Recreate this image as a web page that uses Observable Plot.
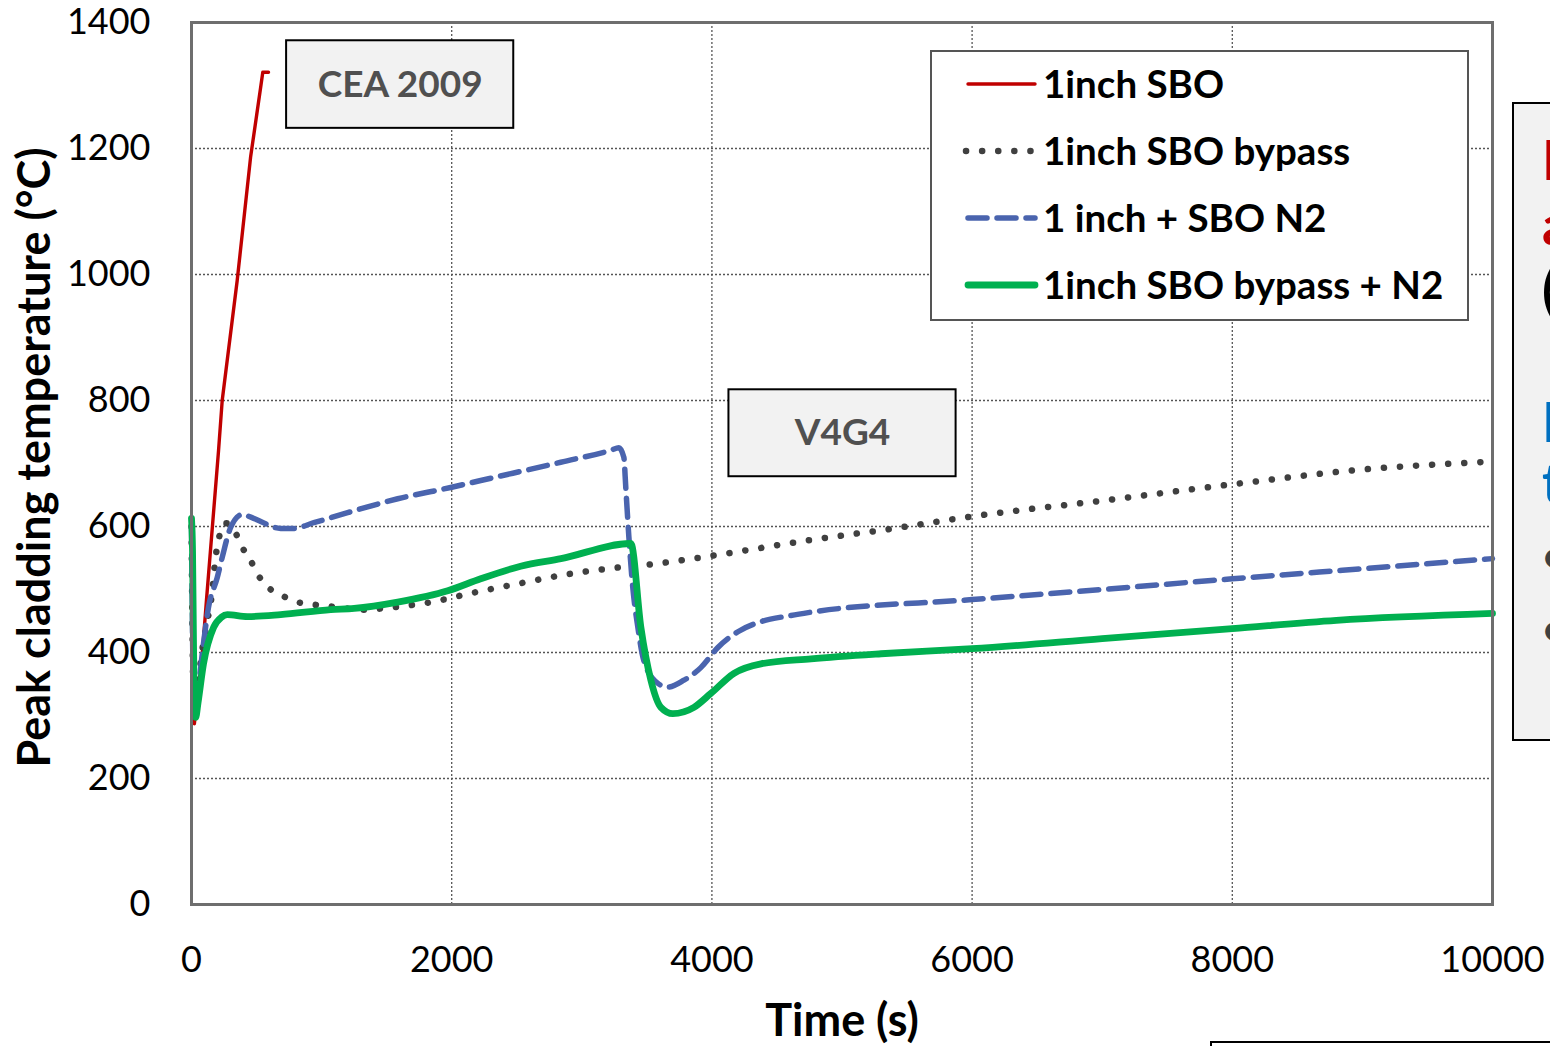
<!DOCTYPE html>
<html>
<head>
<meta charset="utf-8">
<script src="https://cdn.jsdelivr.net/npm/d3@7"></script>
<script src="https://cdn.jsdelivr.net/npm/@observablehq/plot@0.6"></script>
<style>
  html, body { margin: 0; padding: 0; background: white; }
  #chart svg { display: block; }
</style>
</head>
<body>
<div id="chart"></div>
<script>
// Peak cladding temperature transients, [time (s), temperature (°C)]
const sbo1inch = [
  [0, 600], [22, 287], [85, 403], [115, 483], [208, 721], [236, 800],
  [351, 990], [454, 1186], [530, 1295], [548, 1321], [592, 1321]
];
const sboBypass = [
  [0, 600], [20, 300], [40, 330], [80, 400], [123, 451], [160, 498], [185, 551],
  [208, 578], [236, 602], [270, 605], [338, 590], [390, 567], [454, 546],
  [515, 522], [592, 503], [700, 490], [815, 480], [940, 476], [1070, 473],
  [1315, 468], [1554, 472], [1815, 479], [2170, 495], [2530, 510], [2915, 525],
  [3285, 535], [3530, 540], [4015, 554], [4770, 579], [5400, 597], [6000, 616],
  [7000, 641], [8000, 667], [8980, 690], [10000, 703]
];
const sboN2 = [
  [0, 600], [20, 300], [50, 340], [92, 414], [130, 471], [198, 519], [236, 551],
  [300, 598], [390, 619], [477, 613], [685, 597], [785, 597], [940, 606],
  [1200, 622], [1585, 644], [1992, 662], [2223, 673], [2838, 702], [3223, 721],
  [3285, 725], [3323, 710], [3338, 662], [3362, 583], [3392, 503], [3431, 440],
  [3477, 387], [3585, 351], [3662, 345], [3785, 356], [3915, 376], [4046, 408],
  [4200, 433], [4377, 449], [4585, 458], [4762, 464], [6000, 484], [7000, 500],
  [8000, 517], [9000, 533], [10000, 549]
];
const sboBypassN2 = [
  [0, 613], [8, 560], [15, 420], [22, 320], [32, 297], [50, 320], [92, 382],
  [170, 440], [230, 456], [275, 460], [430, 457], [685, 460], [1070, 468],
  [1250, 470], [1585, 480], [1970, 498], [2223, 517], [2530, 537], [2840, 549],
  [3377, 573], [3454, 440], [3531, 356], [3608, 313], [3700, 303], [3862, 313],
  [3992, 335], [4170, 367], [4377, 382], [4762, 390], [5300, 398], [6000, 406],
  [7000, 422], [8000, 438], [8800, 451], [10000, 462]
];

const seriesNames = ["1inch SBO", "1inch SBO bypass", "1 inch + SBO N2", "1inch SBO bypass + N2"];
const xTicks = [0, 2000, 4000, 6000, 8000, 10000];
const yTicks = [0, 200, 400, 600, 800, 1000, 1200, 1400];
const boxLabels = ["CEA 2009", "V4G4"];

const FONT = "Lato, 'Open Sans', sans-serif";

// line styles per series
const styles = [
  { stroke: "#C00000", strokeWidth: 3.4 },
  { stroke: "#404040", strokeWidth: 6.5, strokeDasharray: "0.1,16", strokeLinecap: "round" },
  { stroke: "#4A64AE", strokeWidth: 5.5, strokeDasharray: "19,10", strokeLinecap: "round" },
  { stroke: "#00B050", strokeWidth: 6.8 }
];
const seriesData = [sbo1inch, sboBypass, sboN2, sboBypassN2];

const chart = Plot.plot({
  width: 1550,
  height: 1046,
  marginLeft: 191,
  marginRight: 58,
  marginTop: 22,
  marginBottom: 142,
  x: { domain: [0, 10000] },
  y: { domain: [0, 1400] },
  style: { fontFamily: FONT, fontSize: "36px", color: "black", background: "white", overflow: "hidden" },
  marks: [
    Plot.ruleX(xTicks.slice(1, -1), { stroke: "#555", strokeWidth: 1.3, strokeDasharray: "2,2" }),
    Plot.ruleY(yTicks.slice(1, -1), { stroke: "#555", strokeWidth: 1.3, strokeDasharray: "2,2" }),
    ...seriesData.map((d, i) =>
      Plot.line(d, {
        x: p => p[0], y: p => p[1],
        curve: i === 0 ? "linear" : "monotone-x",
        strokeLinejoin: "round",
        ...styles[i]
      })
    ),
    // annotation boxes
    Plot.rect([boxLabels[0]], { x1: 731, x2: 2477, y1: 1232, y2: 1371, fill: "#F2F2F2", stroke: "black", strokeWidth: 2 }),
    Plot.rect([boxLabels[1]], { x1: 4131, x2: 5877, y1: 679, y2: 817, fill: "#F2F2F2", stroke: "black", strokeWidth: 2 }),
    Plot.text([boxLabels[0]], { x: 1604, y: 1301, text: d => d, fontWeight: "bold", fontSize: 37, fill: "#505050" }),
    Plot.text([boxLabels[1]], { x: 5004, y: 748, text: d => d, fontWeight: "bold", fontSize: 37, fill: "#505050" }),
    Plot.frame({ stroke: "#6e6e6e", strokeWidth: 3 }),
    Plot.axisX({ ticks: xTicks, tickSize: 0, tickPadding: 42, tickFormat: d => String(d), label: null, fontSize: 36 }),
    Plot.axisY({ ticks: yTicks, tickSize: 0, tickPadding: 41, tickFormat: d => String(d), label: null, fontSize: 36 }),
    Plot.text(["Time (s)"], {
      frameAnchor: "bottom", dy: 117, text: d => d, lineAnchor: "middle",
      fontWeight: "bold", fontSize: 45
    }),
    Plot.text(["Peak cladding temperature (°C)"], {
      frameAnchor: "left", dx: -156, dy: -6, rotate: -90, text: d => d,
      textAnchor: "middle", lineAnchor: "middle", fontWeight: "bold", fontSize: 45
    })
  ]
});

document.getElementById("chart").append(chart);

// legend and side panels
const svg = d3.select(chart);
const legend = svg.append("g").attr("font-family", FONT).attr("text-anchor", "start");
legend.append("rect")
  .attr("x", 931).attr("y", 51).attr("width", 537).attr("height", 269)
  .attr("fill", "white").attr("stroke", "#555").attr("stroke-width", 2);
seriesNames.forEach((name, i) => {
  const cy = 84 + i * 67;
  const s = styles[i];
  legend.append("line")
    .attr("x1", i === 1 ? 966 : 968).attr("x2", i === 1 ? 1031 : 1035).attr("y1", cy).attr("y2", cy)
    .attr("stroke", s.stroke).attr("stroke-width", s.strokeWidth)
    .attr("stroke-dasharray", s.strokeDasharray || null)
    .attr("stroke-linecap", s.strokeLinecap || "round");
  legend.append("text")
    .attr("x", 1043).attr("y", cy + 14)
    .attr("font-size", 38.5).attr("font-weight", "bold").attr("fill", "black")
    .text(name);
});

// side note panel, partly beyond the right edge
const side = svg.append("g").attr("font-family", FONT).attr("font-weight", "bold").attr("text-anchor", "start");
side.append("rect")
  .attr("x", 1513).attr("y", 103).attr("width", 120).attr("height", 637)
  .attr("fill", "#F2F2F2").attr("stroke", "black").attr("stroke-width", 2);
const sideLines = [
  { text: "Failure", y: 180, fill: "#C00000", size: 55 },
  { text: "at 600 s", y: 245, fill: "#C00000", size: 55 },
  { text: "(1inch SBO)", y: 310, fill: "black", size: 55 },
  { text: "No failure", y: 442, fill: "#0070C0", size: 55 },
  { text: "thanks to N2", y: 503, fill: "#0070C0", size: 55 },
  { text: "• bypass", y: 572, fill: "#404040", size: 44 },
  { text: "• N2", y: 645, fill: "#404040", size: 44 }
];
sideLines.forEach(l => {
  side.append("text").attr("x", 1542).attr("y", l.y)
    .attr("font-size", l.size).attr("fill", l.fill).text(l.text);
});
svg.append("rect")
  .attr("x", 1211).attr("y", 1042).attr("width", 400).attr("height", 60)
  .attr("fill", "white").attr("stroke", "black").attr("stroke-width", 2);
</script>
</body>
</html>
